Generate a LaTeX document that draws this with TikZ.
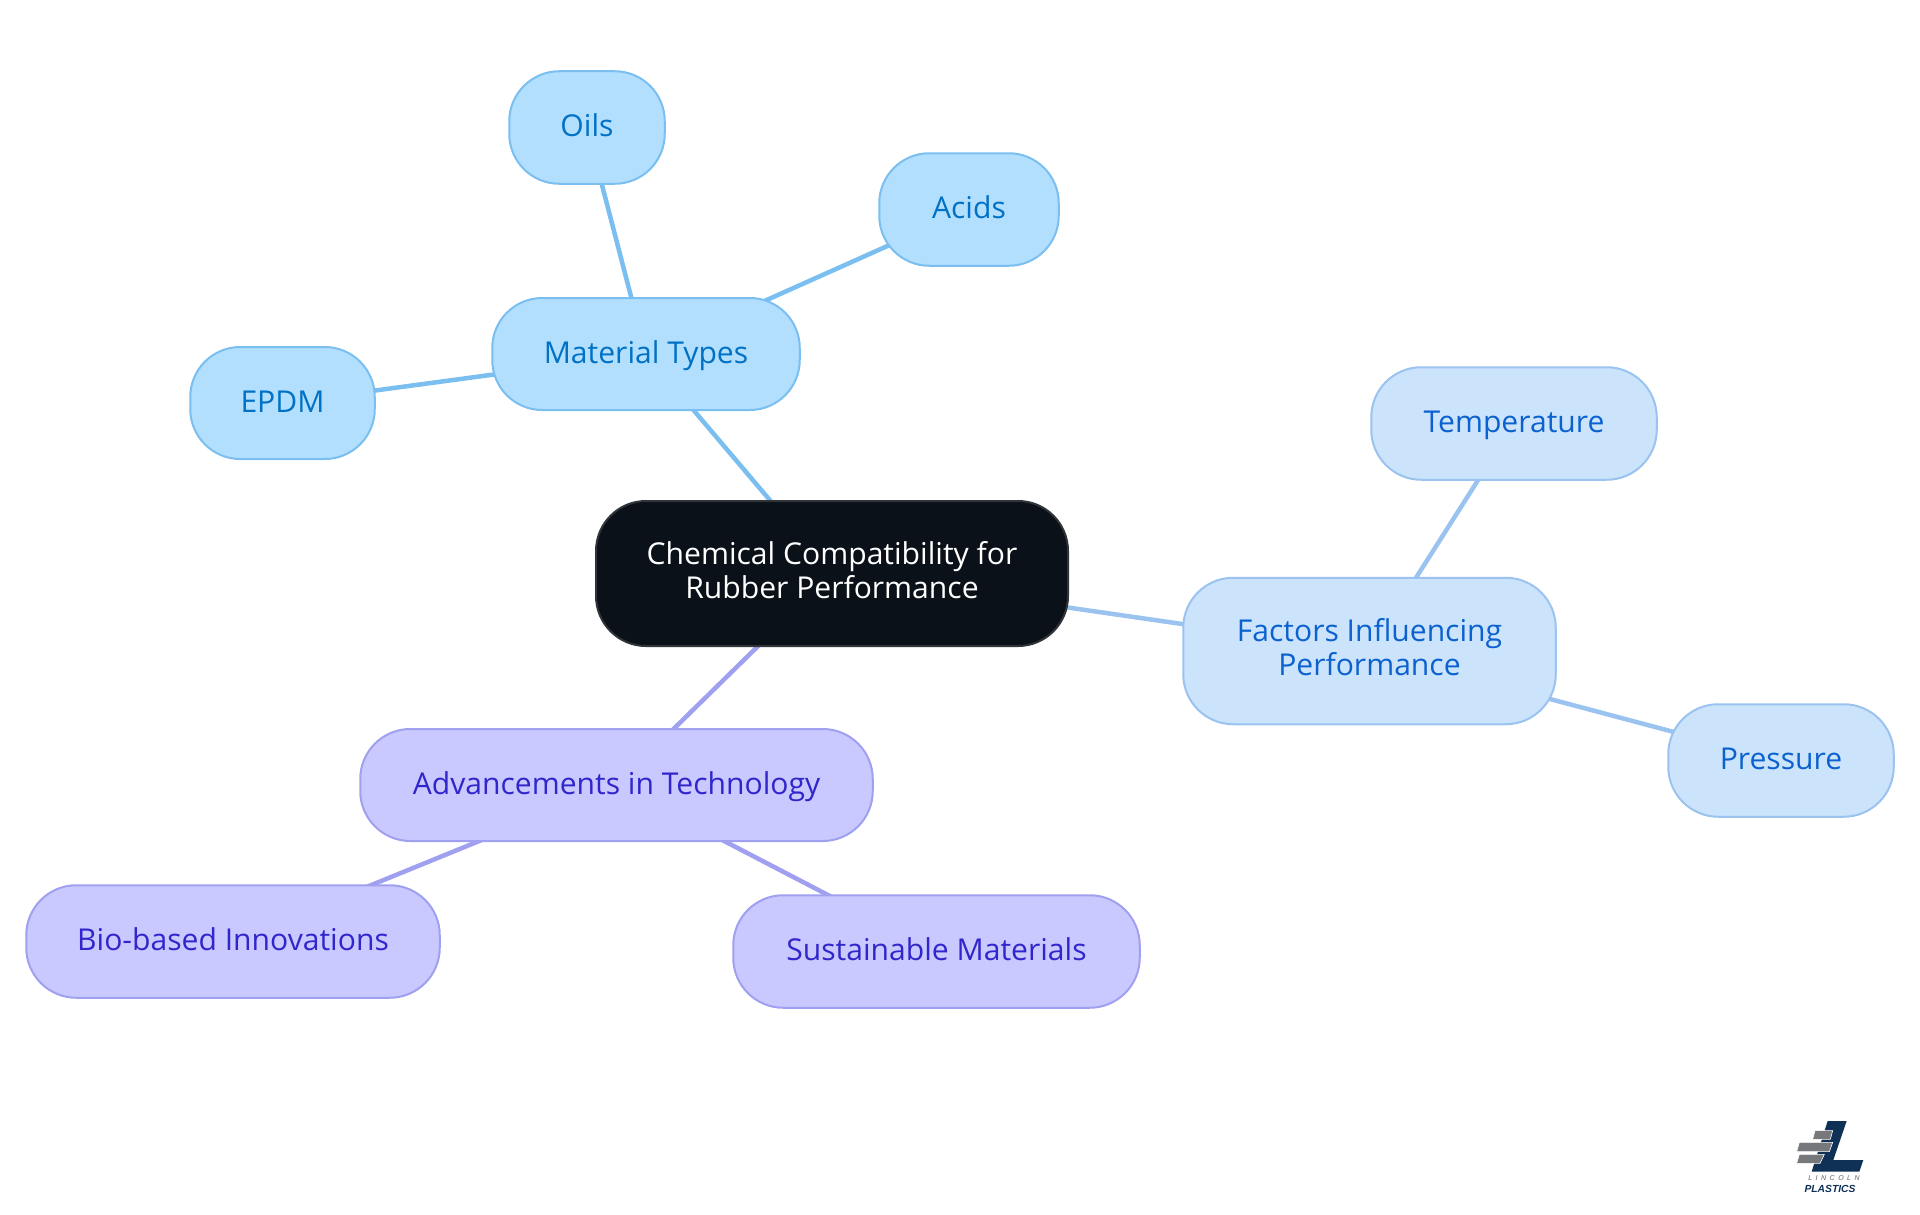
\documentclass[tikz,border=0pt]{standalone}
\usepackage{fontspec}
\setmainfont{Open Sans}
\newfontfamily\logofont{Liberation Sans}
\usetikzlibrary{backgrounds}
\definecolor{matFill}{HTML}{B3DFFF}\definecolor{matLine}{HTML}{7ABFF0}\definecolor{matText}{HTML}{0071C5}
\definecolor{facFill}{HTML}{CCE3FC}\definecolor{facLine}{HTML}{9AC3F0}\definecolor{facText}{HTML}{0B62CF}
\definecolor{tecFill}{HTML}{C9C9FF}\definecolor{tecLine}{HTML}{A0A0F0}\definecolor{tecText}{HTML}{3126CC}
\definecolor{rootFill}{HTML}{0B1119}\definecolor{rootLine}{HTML}{303438}
\definecolor{logoNavy}{HTML}{0E3155}\definecolor{logoGray}{HTML}{77787B}
\newcommand\tstrut{\rule[-8pt]{0pt}{34pt}}
\newcommand\twostrut{\rule[-8pt]{0pt}{39pt}}
\tikzset{
 box/.style={rectangle,rounded corners=50pt,line width=2pt,inner sep=0pt,align=center,
   font=\fontsize{30.1}{34}\selectfont,execute at begin node=\tstrut,execute at end node=\tstrut},
 twoline/.style={execute at begin node=\twostrut},
 rootbox/.style={box,fill=rootFill,draw=rootLine,text=white},
 matbox/.style={box,fill=matFill,draw=matLine,text=matText},
 facbox/.style={box,fill=facFill,draw=facLine,text=facText},
 tecbox/.style={box,fill=tecFill,draw=tecLine,text=tecText},
 link/.style={line width=4.5pt},
 logopart/.style={inner sep=0pt},
 logobar/.style={fill=logoGray,draw=white,line width=0.6pt}
}
\begin{document}
\begin{tikzpicture}[x=1pt,y=-1pt]
\useasboundingbox (0,0) rectangle (1920,1215);
\node[rootbox,twoline,minimum width=472pt,minimum height=145pt] (root) at (832,573.5) {Chemical Compatibility for\\Rubber Performance};
\node[matbox,minimum width=307.5pt,minimum height=112pt] (mat) at (646,354) {Material Types};
\node[matbox,minimum width=155.5pt,minimum height=112.5pt] (oils) at (587,127.5) {Oils};
\node[matbox,minimum width=179.5pt,minimum height=112.5pt] (acids) at (969,209.5) {Acids};
\node[matbox,minimum width=184.5pt,minimum height=112pt] (epdm) at (282.5,403) {EPDM};
\node[facbox,twoline,minimum width=372.5pt,minimum height=146.5pt] (fac) at (1369.5,651) {Factors Influencing\\Performance};
\node[facbox,minimum width=285.5pt,minimum height=112.5pt] (temp) at (1514,423.5) {Temperature};
\node[facbox,minimum width=225.5pt,minimum height=112.5pt] (pres) at (1781,760.5) {Pressure};
\node[tecbox,minimum width=512.5pt,minimum height=112pt] (tech) at (616.5,785) {Advancements in Technology};
\node[tecbox,minimum width=413.5pt,minimum height=112.5pt] (bio) at (233,941.5) {Bio-based Innovations};
\node[tecbox,minimum width=406.5pt,minimum height=112.5pt] (sus) at (936.5,951.5) {Sustainable Materials};
\begin{scope}[on background layer]
\draw[link,matLine] (root.center) -- (mat.center);
\draw[link,matLine] (mat.center) -- (oils.center);
\draw[link,matLine] (mat.center) -- (acids.center);
\draw[link,matLine] (mat.center) -- (epdm.center);
\draw[link,facLine] (root.center) -- (fac.center);
\draw[link,facLine] (fac.center) -- (temp.center);
\draw[link,facLine] (fac.center) -- (pres.center);
\draw[link,tecLine] (root.center) -- (tech.center);
\draw[link,tecLine] (tech.center) -- (bio.center);
\draw[link,tecLine] (tech.center) -- (sus.center);
\end{scope}
\begin{scope}[shift={(1770,1100)},x=0.3333pt,y=-0.3333pt]
\fill[logoNavy] (173,63) -- (230,63) -- (190,180) -- (280,180) -- (268,215) -- (125,215) -- cycle;
\fill[logobar] (135,92) -- (188,92) -- (181,118) -- (128,118) -- cycle;
\fill[logobar] (88,127) -- (188,127) -- (178,155) -- (80,155) -- cycle;
\fill[logobar] (88,163) -- (163,163) -- (150,190) -- (80,190) -- cycle;
\node[logopart,text=logoGray!80!black,font=\logofont\fontsize{7}{8}\selectfont\itshape] (lincoln) at (192,235) {\addfontfeature{LetterSpace=50}LINCOLN};
\node[logopart,text=logoNavy,font=\logofont\fontsize{10.3}{12}\selectfont\bfseries\itshape] (plastics) at (180,267) {PLASTICS};
\end{scope}
\end{tikzpicture}
\end{document}
